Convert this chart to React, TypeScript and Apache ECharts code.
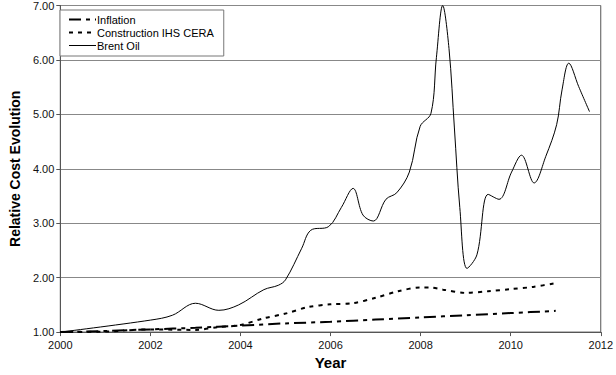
import React, { useEffect, useRef } from "react";
import * as echarts from "echarts";

const brentYears = [2000, 2002, 2002.49, 2003.0, 2003.52, 2003.96, 2004.52, 2004.84, 2005.0, 2005.36, 2005.56, 2005.96, 2006.24, 2006.5, 2006.72, 2006.95, 2007.23, 2007.47, 2007.75, 2007.99, 2008.23, 2008.35, 2008.49, 2008.63, 2008.75, 2008.87, 2009.03, 2009.25, 2009.5, 2009.74, 2010.02, 2010.24, 2010.52, 2010.78, 2011.02, 2011.14, 2011.29, 2011.51, 2011.75];
const brentValues = [1.0, 1.22, 1.31, 1.53, 1.4, 1.5, 1.78, 1.86, 1.96, 2.54, 2.87, 2.94, 3.29, 3.64, 3.15, 3.04, 3.44, 3.56, 3.94, 4.78, 5.02, 6.04, 7.0, 6.21, 4.75, 3.29, 2.17, 2.42, 3.53, 3.44, 3.94, 4.25, 3.74, 4.23, 4.81, 5.45, 5.94, 5.51, 5.05];

const constructionYears = [2000, 2001, 2002, 2003, 2003.5, 2004, 2004.5, 2005, 2005.5, 2006, 2006.5, 2007, 2007.5, 2008, 2008.2, 2008.5, 2009, 2009.5, 2010, 2010.5, 2011];
const constructionValues = [1.0, 1.01, 1.05, 1.04, 1.09, 1.13, 1.25, 1.34, 1.46, 1.51, 1.53, 1.63, 1.75, 1.82, 1.82, 1.78, 1.72, 1.75, 1.79, 1.83, 1.9];

const inflationYears = [2000, 2001, 2002, 2003, 2004, 2005, 2006, 2007, 2008, 2009, 2010, 2011];
const inflationValues = [1.0, 1.02, 1.05, 1.08, 1.12, 1.16, 1.19, 1.23, 1.27, 1.31, 1.35, 1.39];

const xTicks = [2000, 2002, 2004, 2006, 2008, 2010, 2012];
const yTicks = [1, 2, 3, 4, 5, 6, 7];

const zip = (xs: number[], ys: number[]) => xs.map((x, i) => [x, ys[i]]);

export default function App() {
  const ref = useRef<HTMLDivElement>(null);
  useEffect(() => {
    if (!ref.current) return;
    const chart = echarts.init(ref.current, null, { renderer: "svg" });
    const font = "'Liberation Sans', Arial, sans-serif";
    chart.setOption({
      animation: false,
      textStyle: { fontFamily: font },
      grid: {
        left: 50,
        right: 14,
        top: 5,
        bottom: 28,
        show: true,
        borderColor: "#555",
        borderWidth: 1,
        backgroundColor: "#fff",
      },
      legend: {
        orient: "vertical",
        left: 60,
        top: 10,
        itemWidth: 27,
        itemHeight: 8,
        itemGap: 2,
        padding: [4, 10, 5, 8],
        borderColor: "#777",
        borderWidth: 1,
        backgroundColor: "#fff",
        itemStyle: { opacity: 0 },
        textStyle: { fontSize: 11, color: "#000", fontFamily: font, padding: [0, 0, 0, -4] },
        data: [
          { name: "Inflation", lineStyle: { width: 2 } },
          { name: "Construction IHS CERA", lineStyle: { width: 2 } },
          { name: "Brent Oil", lineStyle: { width: 1 } },
        ],
      },
      xAxis: {
        type: "value",
        min: xTicks[0],
        max: xTicks[xTicks.length - 1],
        interval: 2,
        name: "Year",
        nameLocation: "middle",
        nameGap: 19,
        nameTextStyle: { fontSize: 15, fontWeight: "bold", color: "#000", fontFamily: font },
        axisLine: { show: true, lineStyle: { color: "#555" } },
        axisTick: { show: true, length: 4, lineStyle: { color: "#555" } },
        axisLabel: { fontSize: 11, color: "#111", margin: 7, formatter: (v: number) => String(v) },
        splitLine: { show: false },
      },
      yAxis: {
        type: "value",
        min: yTicks[0],
        max: yTicks[yTicks.length - 1],
        interval: 1,
        name: "Relative Cost Evolution",
        nameLocation: "middle",
        nameGap: 37,
        nameTextStyle: { fontSize: 14, fontWeight: "bold", color: "#000", fontFamily: font },
        axisLine: { show: true, lineStyle: { color: "#555" } },
        axisTick: { show: true, length: 4, lineStyle: { color: "#555" } },
        axisLabel: { fontSize: 11, color: "#111", margin: 6, formatter: (v: number) => v.toFixed(2) },
        splitLine: { show: true, lineStyle: { color: "#888", width: 1 } },
      },
      series: [
        {
          name: "Inflation",
          type: "line",
          data: zip(inflationYears, inflationValues),
          showSymbol: false,
          symbol: "none",
          smooth: 0.3,
          lineStyle: { color: "#000", width: 2, type: [12, 5, 4, 5] },
          itemStyle: { color: "#000" },
        },
        {
          name: "Construction IHS CERA",
          type: "line",
          data: zip(constructionYears, constructionValues),
          showSymbol: false,
          symbol: "none",
          smooth: 0.3,
          lineStyle: { color: "#000", width: 2, type: [4, 5] },
          itemStyle: { color: "#000" },
        },
        {
          name: "Brent Oil",
          type: "line",
          data: zip(brentYears, brentValues),
          showSymbol: false,
          symbol: "none",
          smooth: 0.35,
          lineStyle: { color: "#000", width: 1 },
          itemStyle: { color: "#000" },
        },
      ],
    });
    return () => chart.dispose();
  }, []);
  return (
    <div
      ref={ref}
      style={{ position: "fixed", left: 0, top: 0, width: 616, height: 375, background: "#fff" }}
    />
  );
}
